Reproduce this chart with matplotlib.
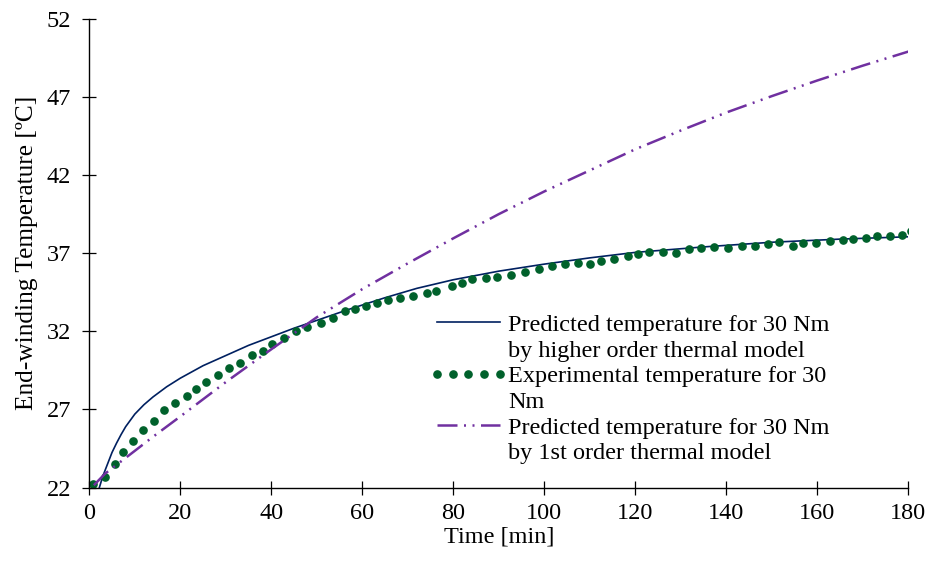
import matplotlib
matplotlib.use("Agg")
import matplotlib.pyplot as plt
from matplotlib.lines import Line2D

plt.rcParams['font.family'] = ['Liberation Serif', 'DejaVu Serif']

# Higher order thermal model (predicted)
t_high = [2, 3, 4, 5, 6, 7, 8, 10, 12, 14, 17, 20, 25, 30, 35, 40, 45, 50,
          57, 65, 72, 80, 90, 100, 110, 120, 135, 150, 165, 180]
T_high = [21.8, 22.75, 23.5, 24.25, 24.85, 25.4, 25.9, 26.7, 27.3, 27.8,
          28.45, 29.0, 29.8, 30.45, 31.1, 31.65, 32.2, 32.7, 33.4, 34.15,
          34.75, 35.3, 35.85, 36.3, 36.7, 37.05, 37.4, 37.7, 37.9, 38.05]

# 1st order thermal model (predicted)
t_first = [1, 3.5, 10, 14, 20, 30, 40, 50, 60, 70, 80, 90, 100, 110, 120,
           130, 140, 150, 160, 170, 180]
T_first = [22.15, 22.9, 24.35, 25.25, 26.55, 28.75, 30.85, 32.9, 34.7, 36.35,
           37.95, 39.5, 40.95, 42.3, 43.65, 44.85, 46.0, 47.05, 48.05, 49.0, 49.9]

# Experimental measurements
t_exp = [0.9, 3.5, 5.6, 7.4, 9.5, 11.8, 14.3, 16.5, 18.8, 21.4, 23.5, 25.7,
         28.2, 30.7, 33.2, 35.8, 38.1, 40.2, 42.8, 45.4, 47.9, 50.9, 53.5,
         56.1, 58.5, 60.9, 63.3, 65.7, 68.3, 71.1, 74.2, 76.3, 79.7, 81.9,
         84.2, 87.1, 89.7, 92.7, 95.8, 98.8, 101.6, 104.6, 107.5, 110.0,
         112.4, 115.4, 118.3, 120.6, 122.9, 126.0, 129.0, 131.7, 134.5,
         137.4, 140.4, 143.5, 146.2, 149.1, 151.6, 154.6, 156.8, 159.6,
         162.7, 165.6, 167.9, 170.8, 173.2, 175.9, 178.7, 180.5]
T_exp = [22.2, 22.7, 23.5, 24.3, 24.96, 25.66, 26.25, 26.94, 27.43, 27.85,
         28.3, 28.73, 29.2, 29.63, 30.0, 30.5, 30.73, 31.2, 31.58, 31.99,
         32.28, 32.56, 32.84, 33.27, 33.40, 33.65, 33.84, 33.99, 34.16, 34.24,
         34.45, 34.58, 34.9, 35.1, 35.34, 35.42, 35.45, 35.61, 35.79, 35.96,
         36.19, 36.28, 36.36, 36.32, 36.51, 36.64, 36.83, 36.92, 37.05, 37.05,
         37.02, 37.24, 37.30, 37.39, 37.34, 37.45, 37.45, 37.60, 37.69, 37.45,
         37.66, 37.62, 37.77, 37.85, 37.92, 37.94, 38.13, 38.11, 38.15, 38.45]

labels = ["Predicted temperature for 30 Nm", "by higher order thermal model",
          "Experimental temperature for 30", "Nm",
          "Predicted temperature for 30 Nm", "by 1st order thermal model"]

fs = 17.5
fig = plt.figure(figsize=(9.3, 5.65), dpi=100)
ax = fig.add_axes([0.096, 0.137, 0.8807, 0.8298])

l1, = ax.plot(t_high, T_high, color='#002060', lw=1.2)
l2, = ax.plot(t_exp, T_exp, ls='none', marker='o', ms=5.2, color='#00612B')
l3, = ax.plot(t_first, T_first, color='#7030A0', lw=1.8,
              dashes=(8, 2.6, 0.8, 2.6, 0.8, 2.6))

ax.set_xlim(0, 180)
ax.set_ylim(22, 52)
ax.set_xticks(range(0, 181, 20))
ax.set_yticks(range(22, 53, 5))
for s in ['top', 'right']:
    ax.spines[s].set_visible(False)
for s in ['left', 'bottom']:
    ax.spines[s].set_linewidth(1.0)
ax.tick_params(direction='inout', length=10, width=0.9, labelsize=fs)
ax.tick_params(axis='x', pad=6)
ax.tick_params(axis='y', pad=8)

ax.set_xlabel("Time [min]", fontsize=fs, labelpad=2)
ax.set_ylabel("End-winding Temperature [ºC]", fontsize=18.3, labelpad=6)

blank = Line2D([], [], ls='none')
ax.legend([l1, blank, l2, blank, l3, blank], labels, loc='upper left',
          bbox_to_anchor=(0.4156, 0.3703), frameon=False, fontsize=fs,
          borderpad=0, borderaxespad=0, handlelength=3.19,
          handletextpad=0.03, labelspacing=0.15, numpoints=5)

fig.savefig("out.png", dpi=100)
